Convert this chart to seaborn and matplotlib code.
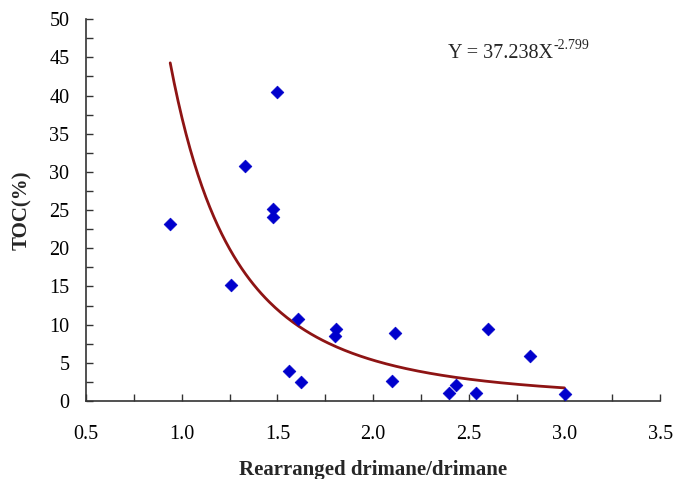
import numpy as np
import pandas as pd
import matplotlib
matplotlib.use("Agg")
import matplotlib.pyplot as plt
import seaborn as sns
from matplotlib.ticker import MultipleLocator

# data
ratio = [0.94, 1.497, 1.331, 1.476, 1.476, 1.256, 1.607, 1.561, 1.624, 1.807,
         1.80, 2.112, 2.098, 2.398, 2.431, 2.537, 2.598, 2.821, 3.002]
toc = [23.2, 40.5, 30.8, 25.1, 24.1, 15.2, 10.8, 3.9, 2.45, 9.4,
       8.5, 8.86, 2.6, 1.0, 2.05, 1.0, 9.47, 5.85, 0.96]

# fitted power law shown on the chart
coef_a = 37.238
coef_b = -2.799
fit_xmin, fit_xmax = 0.94, 3.0

sns.set_theme(style="ticks")
plt.rcParams['font.family'] = ['Liberation Serif', 'DejaVu Serif']

df = pd.DataFrame({"ratio": ratio, "toc": toc})
xf = np.linspace(fit_xmin, fit_xmax, 200)
fit_df = pd.DataFrame({"x": xf, "y": coef_a * xf ** coef_b})

fig = plt.figure(figsize=(6.75, 4.79), dpi=100)
ax = fig.add_axes([0.1274, 0.1628, 0.8506, 0.7972])

sns.lineplot(data=fit_df, x="x", y="y", ax=ax, color="#8E1414", linewidth=2.0)
sns.scatterplot(data=df, x="ratio", y="toc", ax=ax, marker="D", color="#0000CC",
                s=42, edgecolor="#0000CC", linewidth=0.5, zorder=3)

ax.set_xlim(0.5, 3.5)
ax.set_ylim(0, 50)
ax.xaxis.set_major_locator(MultipleLocator(0.5))
ax.xaxis.set_minor_locator(MultipleLocator(0.25))
ax.yaxis.set_major_locator(MultipleLocator(5))
ax.yaxis.set_minor_locator(MultipleLocator(2.5))
ax.set_xticks(np.arange(0.5, 3.51, 0.5))
ax.set_xticklabels([f"{v:.1f}" for v in np.arange(0.5, 3.51, 0.5)])

ax.tick_params(axis='both', which='major', direction='in', length=5, width=1,
               labelsize=14.5, colors='#333333', labelcolor='black')
ax.tick_params(axis='both', which='minor', direction='in', length=5, width=1,
               colors='#333333')
ax.tick_params(axis='x', which='major', pad=17)
ax.tick_params(axis='y', which='major', pad=12)

for s in ['top', 'right']:
    ax.spines[s].set_visible(False)
for s in ['left', 'bottom']:
    ax.spines[s].set_color('#333333')
    ax.spines[s].set_linewidth(1.2)

ax.set_xlabel("Rearranged drimane/drimane", fontsize=15, fontweight='bold', labelpad=12)
ax.set_ylabel("TOC(%)", fontsize=15, fontweight='bold', labelpad=12)

t = ax.text(2.39, 45.5, "Y = 37.238X", fontsize=14.5, va='center', ha='left')
ax.annotate("-2.799", xy=(1, 1), xycoords=t, xytext=(0.5, -1), textcoords='offset points',
            fontsize=10, ha='left', va='center')

fig.savefig("out.png", dpi=100)
